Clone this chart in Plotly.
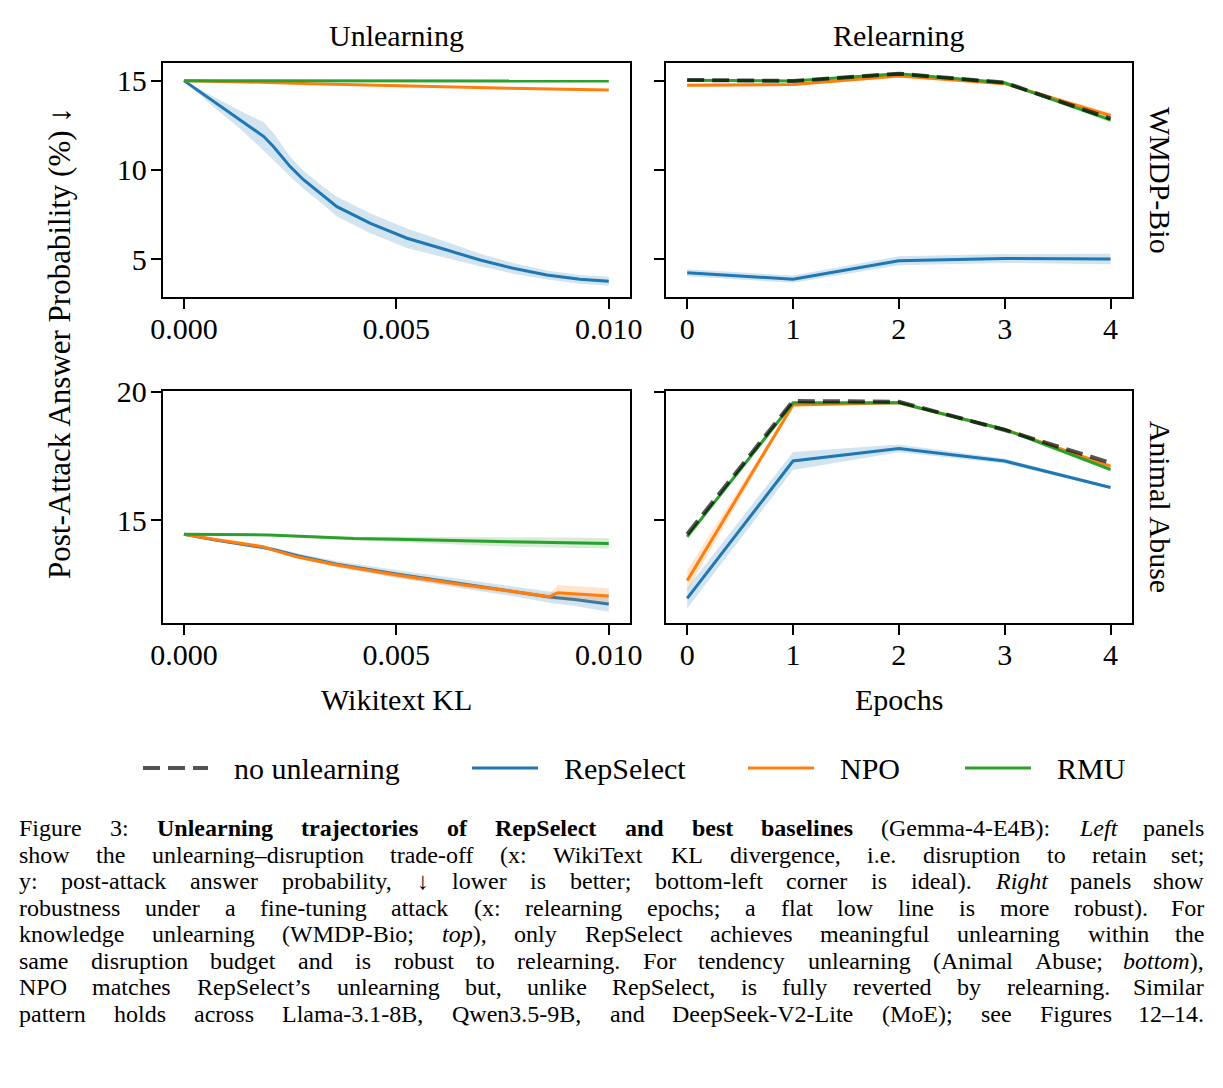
import plotly.graph_objects as go

W, H = 1223, 1088

# ---------------- data ----------------
# Unlearning (x: Wikitext KL), WMDP-Bio
wmdp_unl_rep_kl = [0, 0.0007, 0.00133, 0.00188, 0.00211, 0.0025, 0.00282, 0.00321, 0.0036,
                   0.00439, 0.00525, 0.00619, 0.00697, 0.00775, 0.00854, 0.00932, 0.01]
wmdp_unl_rep = [15.0, 13.82, 12.8, 11.87, 11.3, 10.19, 9.44, 8.69, 7.95,
                7.01, 6.18, 5.52, 4.96, 4.50, 4.12, 3.88, 3.78]
wmdp_unl_rep_err = [0.0, 0.3, 0.5, 0.8, 0.75, 0.55, 0.5, 0.5, 0.55,
                    0.55, 0.55, 0.45, 0.35, 0.3, 0.25, 0.25, 0.25]
wmdp_unl_npo_kl = [0, 0.001, 0.002, 0.003, 0.004, 0.005, 0.006, 0.007, 0.008, 0.009, 0.01]
wmdp_unl_npo = [15.0, 14.97, 14.9, 14.83, 14.77, 14.72, 14.66, 14.61, 14.56, 14.52, 14.48]
wmdp_unl_npo_err = [0.0, 0.03, 0.03, 0.03, 0.03, 0.03, 0.03, 0.03, 0.04, 0.04, 0.04]
wmdp_unl_rmu_kl = [0, 0.001, 0.002, 0.003, 0.004, 0.005, 0.006, 0.007, 0.008, 0.009, 0.01]
wmdp_unl_rmu = [15.0, 15.0, 14.98, 14.97, 14.99, 15.0, 15.0, 14.99, 14.99, 14.98, 14.98]
wmdp_unl_rmu_err = [0.0, 0.02, 0.03, 0.03, 0.03, 0.03, 0.03, 0.03, 0.03, 0.03, 0.03]

# Unlearning, Animal Abuse
abuse_unl_rep_kl = [0, 0.0007, 0.0019, 0.0021, 0.0027, 0.0036, 0.005, 0.0066, 0.0078, 0.0086, 0.0092, 0.01]
abuse_unl_rep = [14.45, 14.23, 13.92, 13.85, 13.6, 13.28, 12.9, 12.5, 12.22, 12.0, 11.9, 11.73]
abuse_unl_rep_err = [0.0, 0.05, 0.08, 0.08, 0.1, 0.12, 0.15, 0.18, 0.2, 0.22, 0.25, 0.3]
abuse_unl_npo_kl = [0, 0.0007, 0.00187, 0.0021, 0.00265, 0.0036, 0.005, 0.0066, 0.0078, 0.0086, 0.0088, 0.01]
abuse_unl_npo = [14.45, 14.25, 13.96, 13.83, 13.57, 13.25, 12.86, 12.47, 12.21, 12.01, 12.17, 12.04]
abuse_unl_npo_err = [0.0, 0.04, 0.05, 0.05, 0.06, 0.08, 0.1, 0.1, 0.1, 0.1, 0.3, 0.3]
abuse_unl_rmu_kl = [0, 0.001, 0.002, 0.003, 0.004, 0.005, 0.006, 0.007, 0.008, 0.009, 0.01]
abuse_unl_rmu = [14.45, 14.43, 14.42, 14.35, 14.28, 14.25, 14.21, 14.18, 14.14, 14.12, 14.09]
abuse_unl_rmu_err = [0.0, 0.02, 0.03, 0.05, 0.07, 0.1, 0.14, 0.17, 0.19, 0.2, 0.2]

# Relearning (x: epochs)
epochs = [0, 1, 2, 3, 4]
wmdp_rel_none = [15.04, 14.98, 15.39, 14.89, 12.87]
wmdp_rel_rep = [4.25, 3.89, 4.92, 5.05, 5.02]
wmdp_rel_rep_err = [0.2, 0.2, 0.25, 0.25, 0.3]
wmdp_rel_npo = [14.74, 14.78, 15.26, 14.83, 13.05]
wmdp_rel_npo_err = [0.1, 0.08, 0.08, 0.08, 0.15]
wmdp_rel_rmu = [15.02, 14.98, 15.39, 14.88, 12.8]
wmdp_rel_rmu_err = [0.05, 0.05, 0.05, 0.05, 0.15]

abuse_rel_none = [14.45, 19.64, 19.61, 18.51, 17.23]
abuse_rel_rep = [11.95, 17.3, 17.79, 17.3, 16.27]
abuse_rel_rep_err = [0.4, 0.35, 0.15, 0.1, 0.05]
abuse_rel_npo = [12.64, 19.48, 19.57, 18.53, 17.1]
abuse_rel_npo_err = [0.4, 0.05, 0.03, 0.03, 0.05]
abuse_rel_rmu = [14.35, 19.57, 19.57, 18.53, 16.97]
abuse_rel_rmu_err = [0.05, 0.03, 0.03, 0.03, 0.05]

col_titles = ["Unlearning", "Relearning"]
row_titles = ["WMDP-Bio", "Animal Abuse"]
kl_ticks = [0, 0.005, 0.01]
kl_ticktext = ["0.000", "0.005", "0.010"]
legend_names = ["no unlearning", "RepSelect", "NPO", "RMU"]

caption_lines = [
    "Figure 3: <b>Unlearning trajectories of RepSelect and best baselines</b> (Gemma-4-E4B): <i>Left</i> panels",
    "show the unlearning–disruption trade-off (x: WikiText KL divergence, i.e. disruption to retain set;",
    "y: post-attack answer probability, ↓ lower is better; bottom-left corner is ideal). <i>Right</i> panels show",
    "robustness under a fine-tuning attack (x: relearning epochs; a flat low line is more robust). For",
    "knowledge unlearning (WMDP-Bio; <i>top</i>), only RepSelect achieves meaningful unlearning within the",
    "same disruption budget and is robust to relearning. For tendency unlearning (Animal Abuse; <i>bottom</i>),",
    "NPO matches RepSelect’s unlearning but, unlike RepSelect, is fully reverted by relearning. Similar",
    "pattern holds across Llama-3.1-8B, Qwen3.5-9B, and DeepSeek-V2-Lite (MoE); see Figures 12–14.",
]

# ---------------- style ----------------
FONT = "Liberation Serif"
BLUE, ORANGE, GREEN = "#1f77b4", "#ff7f0e", "#2ca02c"
DASHC = "rgba(0,0,0,0.68)"
DASH = "17px,8px"


def rgba(h, a):
    h = h.lstrip("#")
    return "rgba(%d,%d,%d,%s)" % (int(h[0:2], 16), int(h[2:4], 16), int(h[4:6], 16), a)


fig = go.Figure()


def add_series(x, y, err, color, xa, ya, dash=None, width=3, lc=None):
    if err is not None:
        up = [a + b for a, b in zip(y, err)]
        lo = [a - b for a, b in zip(y, err)]
        fig.add_trace(go.Scatter(x=list(x) + list(x)[::-1], y=up + lo[::-1], fill="toself",
                                 fillcolor=rgba(color, 0.2), line=dict(width=0), mode="lines",
                                 hoverinfo="skip", showlegend=False, xaxis=xa, yaxis=ya))
    fig.add_trace(go.Scatter(x=x, y=y, mode="lines",
                             line=dict(color=lc or color, width=width, dash=dash),
                             showlegend=False, xaxis=xa, yaxis=ya))


# top-left
add_series(wmdp_unl_rep_kl, wmdp_unl_rep, wmdp_unl_rep_err, BLUE, "x", "y")
add_series(wmdp_unl_npo_kl, wmdp_unl_npo, wmdp_unl_npo_err, ORANGE, "x", "y")
add_series(wmdp_unl_rmu_kl, wmdp_unl_rmu, wmdp_unl_rmu_err, GREEN, "x", "y")
# top-right
add_series(epochs, wmdp_rel_rep, wmdp_rel_rep_err, BLUE, "x2", "y2")
add_series(epochs, wmdp_rel_npo, wmdp_rel_npo_err, ORANGE, "x2", "y2")
add_series(epochs, wmdp_rel_rmu, wmdp_rel_rmu_err, GREEN, "x2", "y2")
add_series(epochs, wmdp_rel_none, None, "#000000", "x2", "y2", dash=DASH, width=4, lc=DASHC)
# bottom-left
add_series(abuse_unl_rep_kl, abuse_unl_rep, abuse_unl_rep_err, BLUE, "x3", "y3")
add_series(abuse_unl_npo_kl, abuse_unl_npo, abuse_unl_npo_err, ORANGE, "x3", "y3")
add_series(abuse_unl_rmu_kl, abuse_unl_rmu, abuse_unl_rmu_err, GREEN, "x3", "y3")
# bottom-right
add_series(epochs, abuse_rel_rep, abuse_rel_rep_err, BLUE, "x4", "y4")
add_series(epochs, abuse_rel_npo, abuse_rel_npo_err, ORANGE, "x4", "y4")
add_series(epochs, abuse_rel_rmu, abuse_rel_rmu_err, GREEN, "x4", "y4")
add_series(epochs, abuse_rel_none, None, "#000000", "x4", "y4", dash=DASH, width=4, lc=DASHC)

# ---------------- axes ----------------
L1, R1 = 162.7, 630.0
L2, R2 = 666.0, 1131.7
T1, B1 = 63.3, 296.7
T2, B2 = 390.7, 622.7


def dx(a, b):
    return [a / W, b / W]


def dy(t, b):
    return [1 - b / H, 1 - t / H]


axis_common = dict(showline=True, mirror=True, linecolor="black", linewidth=2,
                   ticks="outside", ticklen=10, tickwidth=2, tickcolor="black",
                   showgrid=False, zeroline=False, automargin=False,
                   tickfont=dict(family=FONT, size=30, color="black"))
xstyle = dict(axis_common, ticklabelstandoff=-6)
ystyle = dict(axis_common, ticklabelstandoff=-2)

top_y = [2.91, 15.97]
bot_y = [11.0, 20.04]
kl_range = [-0.0005, 0.0105]
ep_range = [-0.2, 4.2]

fig.update_layout(
    xaxis=dict(domain=dx(L1, R1), anchor="y", range=kl_range, tickvals=kl_ticks, ticktext=kl_ticktext, **xstyle),
    yaxis=dict(domain=dy(T1, B1), anchor="x", range=top_y, tickvals=[5, 10, 15], **ystyle),
    xaxis2=dict(domain=dx(L2, R2), anchor="y2", range=ep_range, tickvals=epochs, **xstyle),
    yaxis2=dict(domain=dy(T1, B1), anchor="x2", range=top_y, tickvals=[5, 10, 15], showticklabels=False, **ystyle),
    xaxis3=dict(domain=dx(L1, R1), anchor="y3", range=kl_range, tickvals=kl_ticks, ticktext=kl_ticktext, **xstyle),
    yaxis3=dict(domain=dy(T2, B2), anchor="x3", range=bot_y, tickvals=[15, 20], **ystyle),
    xaxis4=dict(domain=dx(L2, R2), anchor="y4", range=ep_range, tickvals=epochs, **xstyle),
    yaxis4=dict(domain=dy(T2, B2), anchor="x4", range=bot_y, tickvals=[15, 20], showticklabels=False, **ystyle),
)

# ---------------- annotations ----------------
ann = []


def text(xp, yp, s, size=30, angle=0, xanchor="center", yanchor="middle"):
    ann.append(dict(x=xp / W, y=1 - yp / H, xref="paper", yref="paper", text=s, showarrow=False,
                    textangle=angle, xanchor=xanchor, yanchor=yanchor, borderpad=0,
                    font=dict(family=FONT, size=size, color="black")))


text((L1 + R1) / 2, 35, col_titles[0])
text((L2 + R2) / 2, 35, col_titles[1])
text(1160, (T1 + B1) / 2, row_titles[0], angle=90)
text(1160, (T2 + B2) / 2, row_titles[1], angle=90)
text(60, 343, "Post-Attack Answer Probability (%) ↓", size=31, angle=-90)
text((L1 + R1) / 2, 699, "Wikitext KL")
text((L2 + R2) / 2, 699, "Epochs")

# legend (manual)
shapes = []
leg_y = 1 - 768 / H
leg_items = [
    (143, 208, DASHC, 4, DASH, 233),
    (472, 538, BLUE, 3, None, 563),
    (748, 814, ORANGE, 3, None, 839),
    (965, 1031, GREEN, 3, None, 1056),
]
for (x0, x1, c, w, d, tx), name in zip(leg_items, legend_names):
    ln = dict(color=c, width=w)
    if d:
        ln["dash"] = d
    shapes.append(dict(type="line", xref="paper", yref="paper", x0=x0 / W, x1=x1 / W,
                       y0=leg_y, y1=leg_y, line=ln))
    text(tx, 768, name, xanchor="left")

# ---------------- caption (justified, word by word) ----------------
_reg = dict(zip("ABCDEFGHIJKLMNOPQRSTUVWXYZ",
                [722, 667, 667, 722, 611, 556, 722, 722, 333, 389, 722, 611, 889, 722, 722, 556, 722, 667, 556, 611, 722, 722, 944, 722, 722, 611]))
_reg.update(zip("abcdefghijklmnopqrstuvwxyz",
                [444, 500, 444, 500, 444, 333, 500, 500, 278, 278, 500, 278, 778, 500, 500, 500, 500, 333, 389, 278, 500, 500, 722, 500, 500, 444]))
_reg.update({c: 500 for c in "0123456789"})
_reg.update({" ": 250, "(": 333, ")": 333, ",": 250, "-": 333, ".": 250, ":": 278, ";": 278,
             "%": 833, "’": 333, "–": 500, "↓": 500})
_bold = dict(zip("ABCDEFGHIJKLMNOPQRSTUVWXYZ",
                 [722, 667, 722, 722, 667, 611, 778, 778, 389, 500, 778, 667, 944, 722, 778, 611, 778, 722, 556, 667, 722, 722, 1000, 722, 722, 667]))
_bold.update(zip("abcdefghijklmnopqrstuvwxyz",
                 [500, 556, 444, 556, 444, 333, 500, 556, 278, 333, 556, 278, 833, 556, 500, 556, 556, 444, 389, 333, 556, 500, 722, 500, 500, 444]))
_ital = dict(zip("abcdefghijklmnopqrstuvwxyz",
                 [500, 500, 444, 500, 444, 278, 500, 500, 278, 278, 444, 278, 722, 500, 500, 500, 500, 389, 389, 278, 500, 444, 667, 444, 444, 389]))
_ital.update({"L": 556, "R": 611})


def char_w(c, b, i):
    if b:
        return _bold.get(c, _reg.get(c, 500))
    if i:
        return _ital.get(c, _reg.get(c, 500))
    return _reg.get(c, 500)


def parse_words(line):
    words, cur = [], []
    b = i = False
    k = 0
    while k < len(line):
        for tag in ("<b>", "</b>", "<i>", "</i>"):
            if line.startswith(tag, k):
                if tag == "<b>":
                    b = True
                elif tag == "</b>":
                    b = False
                elif tag == "<i>":
                    i = True
                else:
                    i = False
                k += len(tag)
                break
        else:
            c = line[k]
            if c == " ":
                if cur:
                    words.append(cur)
                cur = []
            else:
                cur.append((c, b, i))
            k += 1
    if cur:
        words.append(cur)
    return words


def word_html(chars):
    out, prev, buf = [], None, ""
    for c, b, i in chars + [(None, None, None)]:
        st = (b, i)
        if st != prev and prev is not None:
            s = buf
            if prev[1]:
                s = "<i>" + s + "</i>"
            if prev[0]:
                s = "<b>" + s + "</b>"
            out.append(s)
            buf = ""
        if c is not None:
            buf += c
        prev = st
    return "".join(out)


CAP_SIZE = 24
CAP_LEFT, CAP_RIGHT = 18, 1205
cap_y0, cap_dy = 828, 26.5
for li, line in enumerate(caption_lines):
    words = parse_words(line)
    widths = [sum(char_w(c, b, i) for c, b, i in w) * CAP_SIZE / 1000.0 for w in words]
    gap = (CAP_RIGHT - CAP_LEFT - sum(widths)) / max(len(words) - 1, 1)
    gap = max(gap, 0.25 * CAP_SIZE)
    xpos = CAP_LEFT
    yp = cap_y0 + li * cap_dy
    for wi, (w, wd) in enumerate(zip(words, widths)):
        if wi == len(words) - 1 and wi > 0:
            text(CAP_RIGHT, yp, word_html(w), size=CAP_SIZE, xanchor="right")
        else:
            text(xpos, yp, word_html(w), size=CAP_SIZE, xanchor="left")
        xpos += wd + gap

fig.update_layout(width=W, height=H, margin=dict(l=0, r=0, t=0, b=0),
                  paper_bgcolor="white", plot_bgcolor="white",
                  annotations=ann, shapes=shapes, showlegend=False)

fig.write_html("out.html")
